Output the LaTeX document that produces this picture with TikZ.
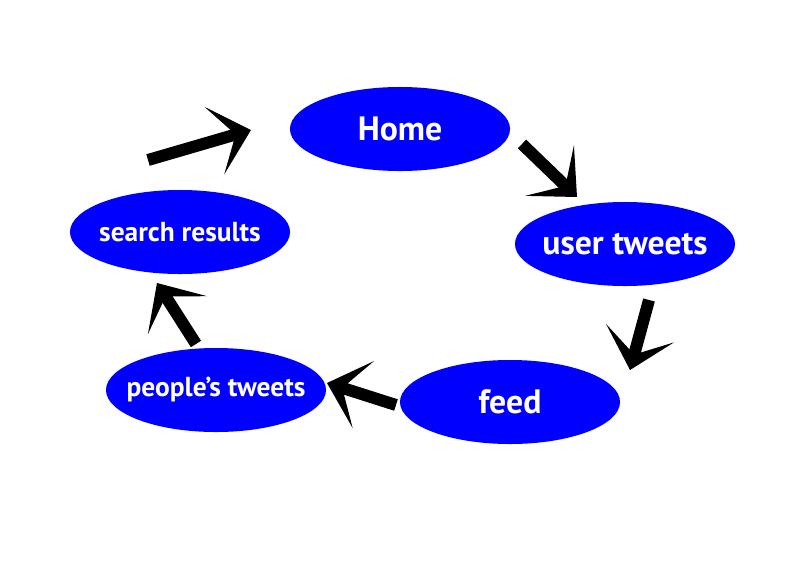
\documentclass[tikz,border=0pt]{standalone}
\usepackage{fontspec}
\setmainfont{PT Sans}
\usetikzlibrary{shapes.geometric, arrows.meta}

\begin{document}
\begin{tikzpicture}[x=0.025cm, y=-0.025cm,
    page/.style={ellipse, fill=blue, text=white, inner xsep=-1cm,
      inner ysep=0pt, minimum width=5.5cm, minimum height=2.1cm},
    big/.style={font=\fontsize{24}{28}\selectfont\bfseries},
    small/.style={font=\fontsize{19.5}{23}\selectfont\bfseries},
    flow/.style={line width=0.3cm,
      -{Stealth[length=0.95cm, width=1.75cm, inset=0.55cm]}}]
  \useasboundingbox (0, 0) rectangle (800, 560);
  % pages
  \node [page, big] (home) at (400, 129) {Home};
  \node [page, big] (user) at (625, 244) {user tweets};
  \node [page, big] (feed) at (510, 402) {feed};
  \node [page, small] (people) at (216, 390) {people’s tweets};
  \node [page, small] (search) at (180, 232) {search results};
  % free ends of the arrows
  \coordinate (searchout) at (148, 160);
  \coordinate (homein) at (251, 130);
  \coordinate (homeout) at (522, 144);
  \coordinate (userin) at (577, 197);
  \coordinate (userout) at (649, 300);
  \coordinate (feedin) at (630, 370);
  \coordinate (feedout) at (396, 405);
  \coordinate (peoplein) at (327, 383);
  \coordinate (peopleout) at (196, 344);
  \coordinate (searchin) at (157, 283);
  % arrows
  \draw [flow] (searchout) -- (homein);
  \draw [flow] (homeout) -- (userin);
  \draw [flow] (userout) -- (feedin);
  \draw [flow] (feedout) -- (peoplein);
  \draw [flow] (peopleout) -- (searchin);
\end{tikzpicture}
\end{document}
